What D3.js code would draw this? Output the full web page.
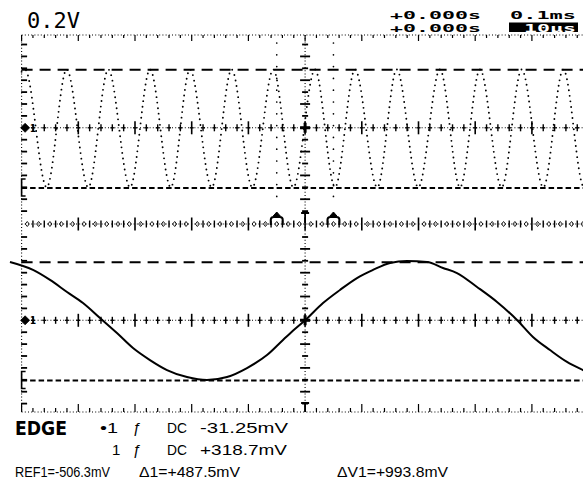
<!DOCTYPE html>
<html><head><meta charset="utf-8">
<script src="https://cdn.jsdelivr.net/npm/d3@7"></script>
<style>html,body{margin:0;padding:0;background:#fff;}svg{display:block;}</style>
</head><body><svg id="c" width="583" height="481"></svg>
<script>
// ---------- data ----------
const mainTimeDomain = [-0.5, 0.5];     // ms  (0.1 ms/div x 10 div)
const zoomTimeDomain = [-0.05, 0.05];   // ms  (zoom window, 10 us/div)
const voltDomain = [-0.8, 0.8];         // V   (0.2 V/div x 8 div per window)
const cursorLevels = [0.4875, -0.5063]; // delta1, REF1 (V)
const zoomWindow = [-0.05, 0.05];       // ms, zoom cursors on main trace

// channel 1, main timebase: turning points of the dotted trace
const ch1Times = [-0.5, -0.494, -0.4557, -0.4205, -0.3824, -0.3471, -0.3088, -0.2735, -0.237, -0.203,
  -0.1647, -0.1295, -0.0931, -0.0561, -0.0208, 0.0175, 0.0527, 0.088, 0.1273, 0.1616,
  0.1996, 0.2379, 0.2732, 0.3085, 0.3467, 0.382, 0.4201, 0.4554, 0.492, 0.5];
const ch1Volts = [0.47, 0.49, -0.50, 0.49, -0.50, 0.49, -0.50, 0.49, -0.50, 0.49,
  -0.50, 0.49, -0.50, 0.49, -0.50, 0.49, -0.50, 0.49, -0.50, 0.49,
  -0.50, 0.49, -0.50, 0.49, -0.50, 0.49, -0.50, 0.49, -0.50, -0.46];

// channel 1, zoomed timebase
const zoomTimes = [-0.05205, -0.04799, -0.04499, -0.04199, -0.03917, -0.03617, -0.03318, -0.03035, -0.02736, -0.02436,
  -0.02083, -0.0173, -0.01378, -0.01025, -0.00672, -0.0039, -0.00266, 0, 0.00316, 0.00615,
  0.00915, 0.01197, 0.01497, 0.01797, 0.0215, 0.02432, 0.02679, 0.03032, 0.03385, 0.03737,
  0.04019, 0.04319, 0.04619, 0.04901, 0.05];
const zoomVolts = [0.49, 0.423, 0.339, 0.238, 0.145, 0.019, -0.107, -0.233, -0.334, -0.418,
  -0.477, -0.502, -0.477, -0.401, -0.292, -0.165, -0.11, 0, 0.145, 0.255,
  0.355, 0.423, 0.482, 0.498, 0.49, 0.44, 0.397, 0.28, 0.154, 0.003,
  -0.14, -0.25, -0.35, -0.418, -0.44];

const scaleLabel = "0.2V";
const headerRow1 = ["+0.000s", "0.1ms"];
const headerRow2 = ["+0.000s", "10μs"];
const triggerTitle = "EDGE";
const triggerRow1 = ["•1", "ƒ", "DC", "-31.25mV"];
const triggerRow2 = ["1", "ƒ", "DC", "+318.7mV"];
const readouts = ["REF1=-506.3mV", "Δ1=+487.5mV", "ΔV1=+993.8mV"];

// ---------- layout ----------
const W = 583, H = 481;
const frame = {left: 21.6, right: 588.6, top: 35, mid: 224, bottom: 412};
const upperGround = 127.8, lowerGround = 320.3, pxPerVolt = 119;

const svg = d3.select("#c");
svg.append("rect").attr("width", W).attr("height", H).attr("fill", "#fff");

const xMain = d3.scaleLinear().domain(mainTimeDomain).range([frame.left, frame.right]);
const xZoom = d3.scaleLinear().domain(zoomTimeDomain).range([frame.left, frame.right]);
const halfSpan = voltDomain[1] * pxPerVolt;
const yUpper = d3.scaleLinear().domain(voltDomain).range([upperGround + halfSpan, upperGround - halfSpan]);
const yLower = d3.scaleLinear().domain(voltDomain).range([lowerGround + halfSpan, lowerGround - halfSpan]);

const g = svg.append("g").attr("stroke", "#000").attr("fill", "none");
const timeTicks = d3.range(0, 51).map(i => mainTimeDomain[0] + i * 0.02);
const isMajorT = t => Math.abs(Math.round(t * 10) - t * 10) < 1e-6;
const voltTicks = d3.range(0, 17).map(i => voltDomain[0] + i * 0.1);
const isMajorV = v => Math.abs(Math.round(v * 5) - v * 5) < 1e-6;

function dotted(x1, y1, x2, y2, dash) {
  g.append("line").attr("x1", x1).attr("y1", y1).attr("x2", x2).attr("y2", y2)
    .attr("stroke-width", 1.1).attr("stroke-dasharray", dash || "1 2.2");
}

// top & bottom borders
dotted(frame.left, frame.top, W, frame.top);
dotted(frame.left, frame.bottom, W, frame.bottom);
g.selectAll(null).data(timeTicks).join("line")
  .attr("x1", d => xMain(d)).attr("x2", d => xMain(d))
  .attr("y1", frame.top).attr("y2", d => frame.top + (isMajorT(d) ? 6 : 3))
  .attr("stroke-width", 1.2);
g.selectAll(null).data(timeTicks).join("line")
  .attr("x1", d => xMain(d)).attr("x2", d => xMain(d))
  .attr("y1", frame.bottom).attr("y2", d => frame.bottom - (isMajorT(d) ? 8 : 4))
  .attr("stroke-width", 1.2);

// horizontal tick lines (grounds and centre)
[upperGround, frame.mid, lowerGround].forEach((yy, k) => {
  dotted(frame.left, yy, W, yy);
  g.selectAll(null).data(timeTicks.slice(1)).join("line")
    .attr("x1", d => xMain(d)).attr("x2", d => xMain(d))
    .attr("y1", d => yy - (isMajorT(d) ? 6.5 : 3.5)).attr("y2", d => yy + (isMajorT(d) ? 6.5 : 3.5))
    .attr("stroke-width", d => isMajorT(d) ? 1.6 : 1.4);
  if (k === 1) {
    g.selectAll(null).data(timeTicks.slice(0, -1)).join("path")
      .attr("d", d => { const cx = xMain(d + 0.01); return `M${cx},${yy - 2.5}L${cx + 2},${yy}L${cx},${yy + 2.5}L${cx - 2},${yy}Z`; })
      .attr("stroke-width", 0.9);
  } else {
    g.selectAll(null).data(timeTicks.slice(1)).join("line")
      .attr("x1", d => xMain(d) - 2).attr("x2", d => xMain(d) + 2)
      .attr("y1", yy).attr("y2", yy).attr("stroke-width", 1.3);
  }
});

// vertical ticks for left border and centre line
const vPositions = [];
voltTicks.forEach(v => {
  const a = yUpper(v); if (a > frame.top + 3 && a < frame.mid - 3) vPositions.push({y: a, major: isMajorV(v)});
  const b = yLower(v); if (b > frame.mid + 3 && b < frame.bottom - 3) vPositions.push({y: b, major: isMajorV(v)});
});
dotted(frame.left, frame.top, frame.left, frame.bottom);
g.selectAll(null).data(vPositions).join("line")
  .attr("x1", frame.left - 0.5).attr("x2", frame.left + 5.5)
  .attr("y1", d => d.y).attr("y2", d => d.y).attr("stroke-width", 1.8);
const xc = xMain(0);
dotted(xc, frame.top, xc, frame.bottom);
g.selectAll(null).data(vPositions).join("line")
  .attr("x1", d => xc - (d.major ? 5 : 3)).attr("x2", d => xc + (d.major ? 5 : 3))
  .attr("y1", d => d.y).attr("y2", d => d.y).attr("stroke-width", 1.8);

// cursor levels (delta1 long dashes, REF1 short dashes) in both windows
[yUpper, yLower].forEach(ys => {
  cursorLevels.forEach((lv, i) => {
    g.append("line").attr("x1", frame.left).attr("x2", W)
      .attr("y1", ys(lv)).attr("y2", ys(lv))
      .attr("stroke-width", 2).attr("stroke-dasharray", i === 0 ? "11 7" : "5.5 3");
  });
  const ry = ys(cursorLevels[1]);
  g.append("path").attr("d", `M${frame.left + 4},${ry - 9}H${frame.left}V${ry + 8}H${frame.left + 4}`)
    .attr("stroke-width", 1.6);
});

// zoom window cursors on main window
zoomWindow.forEach(t => {
  const x = xMain(t);
  g.append("line").attr("x1", x).attr("x2", x).attr("y1", frame.top + 8).attr("y2", frame.mid - 16)
    .attr("stroke-width", 1.7).attr("stroke-linecap", "round").attr("stroke-dasharray", "0 11.8");
  g.append("path").attr("d", `M${x},${frame.mid - 12}L${x + 3.5},${frame.mid - 8}L${x - 3.5},${frame.mid - 8}Z`)
    .attr("fill", "#000").attr("stroke-width", 1);
  g.append("path").attr("d", `M${x - 6},${frame.mid + 1}V${frame.mid - 4}Q${x - 6},${frame.mid - 7} ${x - 3},${frame.mid - 7}H${x + 3}Q${x + 6},${frame.mid - 7} ${x + 6},${frame.mid - 4}V${frame.mid + 1}`)
    .attr("stroke-width", 2);
});

// trigger 'T' markers
[[frame.mid - 11, frame.mid - 1], [frame.bottom - 9, frame.bottom]].forEach(([y1, y2]) => {
  g.append("path").attr("d", `M${xc - 4},${y1}H${xc + 4}M${xc},${y1}V${y2}`).attr("stroke-width", 1.8);
});

// ground markers and centre crosses
[yUpper(0), yLower(0)].forEach(yy => {
  g.append("path").attr("d", `M${frame.left + 3.5},${yy - 4.5}L${frame.left + 8},${yy}L${frame.left + 3.5},${yy + 4.5}L${frame.left - 1},${yy}Z`)
    .attr("fill", "#000").attr("stroke-width", 0.8);
  svg.append("text").attr("x", frame.left + 8.5).attr("y", yy + 4).attr("font-family", "DejaVu Sans Mono")
    .attr("font-size", 10).attr("font-weight", "bold").text("1");
  g.append("path").attr("d", `M${xc - 5},${yy}H${xc + 5}M${xc},${yy - 5}V${yy + 5}`).attr("stroke-width", 3);
});

// ---------- traces ----------
const ch1 = ch1Times.map((t, i) => ({t, v: ch1Volts[i]}));
const zoomData = zoomTimes.map((t, i) => ({t, v: zoomVolts[i]}));
svg.append("path").datum(ch1)
  .attr("d", d3.line().x(d => xMain(d.t)).y(d => yUpper(d.v)).curve(d3.curveMonotoneX))
  .attr("fill", "none").attr("stroke", "#000").attr("stroke-width", 1.9)
  .attr("stroke-linecap", "round").attr("stroke-dasharray", "0 5.6");
svg.append("path").datum(zoomData)
  .attr("d", d3.line().x(d => xZoom(d.t)).y(d => yLower(d.v)).curve(d3.curveMonotoneX))
  .attr("fill", "none").attr("stroke", "#000").attr("stroke-width", 2);

// ---------- texts ----------
const mono = "DejaVu Sans Mono";
svg.append("text").attr("x", 27).attr("y", 28).attr("font-family", mono).attr("font-size", 22)
  .attr("textLength", 53).attr("lengthAdjust", "spacingAndGlyphs").text(scaleLabel);
function stretched(txt, x, y, len, fill) {
  return svg.append("text").attr("x", x).attr("y", y).attr("font-family", mono).attr("font-size", 10.5)
    .attr("font-weight", "bold")
    .attr("fill", fill || "#000").attr("textLength", len).attr("lengthAdjust", "spacingAndGlyphs").text(txt);
}
stretched(headerRow1[0], 390, 19, 91);
stretched(headerRow1[1], 510, 19, 66);
stretched(headerRow2[0], 390, 31.5, 91);
svg.append("rect").attr("x", 509).attr("y", 22.5).attr("width", 69).attr("height", 9.5).attr("fill", "#000");
stretched(headerRow2[1], 524, 31.5, 52, "#fff");

svg.append("text").attr("x", 15).attr("y", 435).attr("font-family", "DejaVu Sans").attr("font-weight", "bold")
  .attr("font-size", 20).attr("textLength", 52).attr("lengthAdjust", "spacingAndGlyphs").text(triggerTitle);
const sans = "Liberation Sans";
function small(txt, x, y, len) {
  const t = svg.append("text").attr("x", x).attr("y", y).attr("font-family", sans).attr("font-size", 15).text(txt);
  if (len) t.attr("textLength", len).attr("lengthAdjust", "spacingAndGlyphs");
  return t;
}
const colX = [100, 133, 167, 200];
const colLen = [18, null, 20, 88];
[[triggerRow1, 433], [triggerRow2, 455]].forEach(([row, y], r) => {
  row.forEach((txt, i) => {
    const x = (r === 1 && i === 0) ? 112 : colX[i];
    const len = (r === 1 && i === 0) ? null : colLen[i];
    small(txt, x, y, i === 3 ? (r === 0 ? 88 : 87) : len);
  });
});
small(readouts[0], 15, 477, 95);
small(readouts[1], 139, 477, 101);
small(readouts[2], 337, 477, 111);
</script></body></html>
